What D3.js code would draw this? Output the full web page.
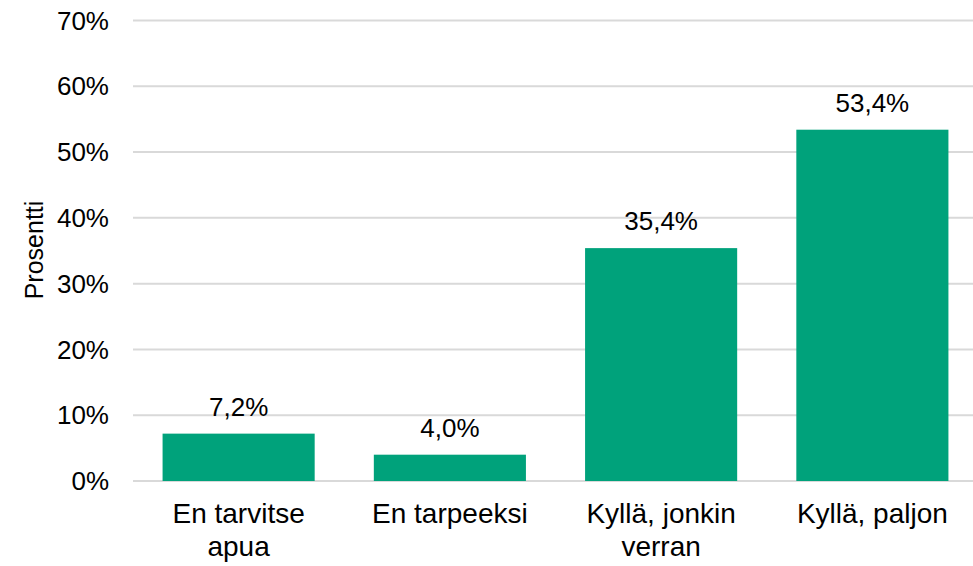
<!DOCTYPE html>
<html>
<head>
<meta charset="utf-8">
<script src="https://cdn.jsdelivr.net/npm/d3@7"></script>
<style>
  body { margin: 0; background: #fff; }
  text { font-family: "Liberation Sans", Arial, sans-serif; fill: #000; }
</style>
</head>
<body>
<svg id="chart" width="973" height="566"></svg>
<script>
const categories = [['En tarvitse', 'apua'], ['En tarpeeksi'], ['Kyllä, jonkin', 'verran'], ['Kyllä, paljon']];
const values = [7.2, 4.0, 35.4, 53.4];
const yTicks = [0, 10, 20, 30, 40, 50, 60, 70];
const yTitle = 'Prosentti';

const svg = d3.select('svg#chart');
const width = 973;

const x = d3
  .scaleBand()
  .domain(d3.range(categories.length))
  .range([133, 978])
  .paddingInner(0.28)
  .paddingOuter(0.14);

const y = d3.scaleLinear().domain([0, 70]).range([481, 20.5]);

// gridlines
svg
  .append('g')
  .selectAll('line')
  .data(yTicks)
  .enter()
  .append('line')
  .attr('x1', 133)
  .attr('x2', width)
  .attr('y1', d => y(d))
  .attr('y2', d => y(d))
  .style('stroke', '#d9d9d9')
  .style('stroke-width', 2);

// y tick labels
svg
  .append('g')
  .selectAll('text')
  .data(yTicks)
  .enter()
  .append('text')
  .attr('x', 109)
  .attr('y', d => y(d))
  .attr('dy', '0.35em')
  .attr('text-anchor', 'end')
  .style('font-size', '26px')
  .text(d => `${d}%`);

// y title
svg
  .append('text')
  .attr('transform', `translate(43, 250) rotate(-90)`)
  .attr('text-anchor', 'middle')
  .style('font-size', '25px')
  .text(yTitle);

// bars
svg
  .append('g')
  .selectAll('rect')
  .data(values)
  .enter()
  .append('rect')
  .attr('x', (d, i) => x(i))
  .attr('width', x.bandwidth())
  .attr('y', d => y(d))
  .attr('height', d => y(0) - y(d))
  .style('fill', '#00a27b');

// value labels
svg
  .append('g')
  .selectAll('text')
  .data(values)
  .enter()
  .append('text')
  .attr('x', (d, i) => x(i) + x.bandwidth() / 2)
  .attr('y', d => y(d) - 18)
  .attr('text-anchor', 'middle')
  .style('font-size', '26px')
  .text(d => d.toFixed(1).replace('.', ',') + '%');

// category labels
const cat = svg
  .append('g')
  .selectAll('text')
  .data(categories)
  .enter()
  .append('text')
  .attr('text-anchor', 'middle')
  .style('font-size', '28px');

cat
  .selectAll('tspan')
  .data((d, i) => d.map(line => ({ line, i })))
  .enter()
  .append('tspan')
  .attr('x', d => x(d.i) + x.bandwidth() / 2)
  .attr('y', (d, j) => 523 + j * 33)
  .text(d => d.line);
</script>
</body>
</html>
